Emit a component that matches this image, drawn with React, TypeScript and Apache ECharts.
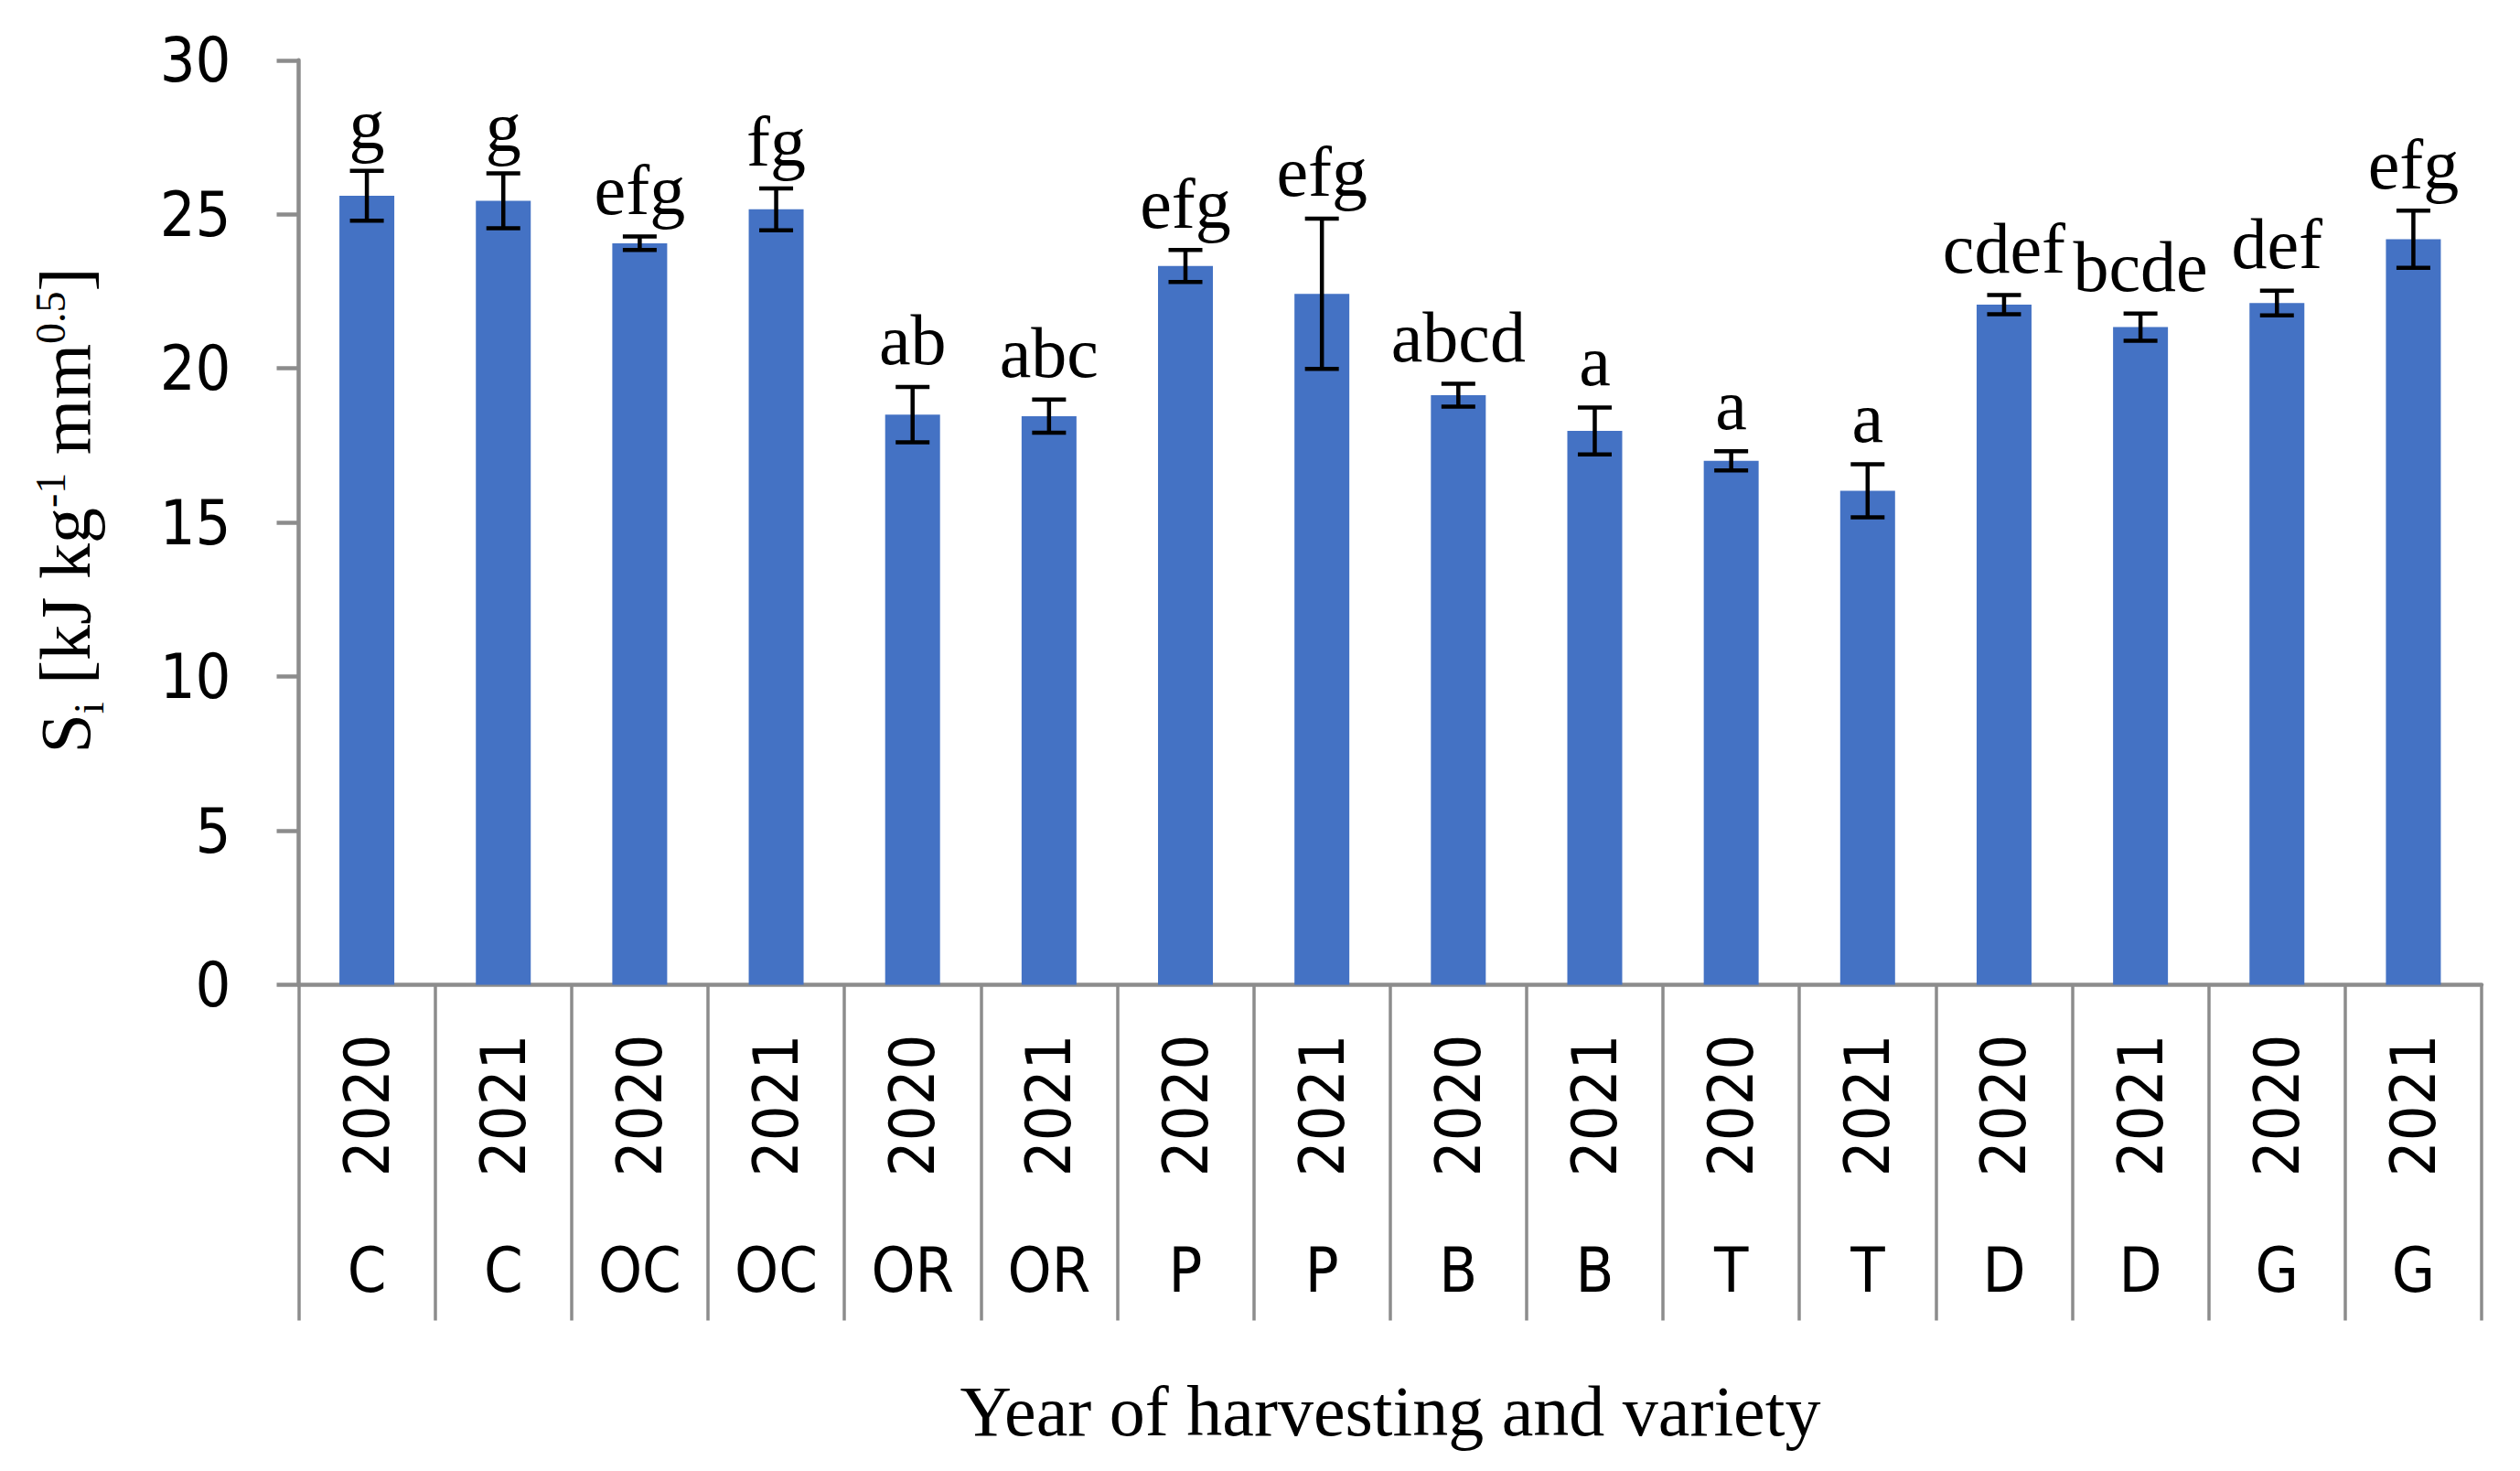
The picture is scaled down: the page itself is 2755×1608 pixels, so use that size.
import React, { useEffect, useRef } from 'react';
import * as echarts from 'echarts';

const years = ['2020', '2021', '2020', '2021', '2020', '2021', '2020', '2021', '2020', '2021', '2020', '2021', '2020', '2021', '2020', '2021'];
const varieties = ['C', 'C', 'OC', 'OC', 'OR', 'OR', 'P', 'P', 'B', 'B', 'T', 'T', 'D', 'D', 'G', 'G'];
const means = [25.6, 25.44, 24.06, 25.16, 18.5, 18.45, 23.32, 22.42, 19.13, 17.97, 17.0, 16.03, 22.07, 21.34, 22.12, 24.19];
const errors = [0.81, 0.89, 0.22, 0.68, 0.9, 0.54, 0.52, 2.44, 0.37, 0.76, 0.31, 0.86, 0.31, 0.44, 0.4, 0.93];
const letters = ['g', 'g', 'efg', 'fg', 'ab', 'abc', 'efg', 'efg', 'abcd', 'a', 'a', 'a', 'cdef', 'bcde', 'def', 'efg'];

// y-axis title pieces: [text, kind]
const yTitleParts: [string, 'n' | 'sub' | 'sup'][] = [
  ['S', 'n'],
  ['i', 'sub'],
  [' [kJ kg', 'n'],
  ['-1', 'sup'],
  [' mm', 'n'],
  ['0.5', 'sup'],
  [']', 'n'],
];

const SANS = "'DejaVu Sans Condensed', 'DejaVu Sans', sans-serif";
const SERIF = "'Liberation Serif', 'Times New Roman', serif";
const GRAY = '#8c8c8c';
const MAIN_FS = 78;
const SMALL_FS = 46;

function buildYTitle() {
  const ctx = document.createElement('canvas').getContext('2d') as CanvasRenderingContext2D;
  const widths = yTitleParts.map(([t, k]) => {
    ctx.font = `${k === 'n' ? MAIN_FS : SMALL_FS}px ${SERIF}`;
    return ctx.measureText(t).width;
  });
  const total = widths.reduce((a, b) => a + b, 0);
  let x = -total / 2;
  const children: any[] = [];
  yTitleParts.forEach(([t, k], idx) => {
    const dy = k === 'n' ? 0 : k === 'sub' ? 26 : -16;
    children.push({
      type: 'text',
      x,
      y: dy,
      style: {
        text: t,
        fontFamily: SERIF,
        fontSize: k === 'n' ? MAIN_FS : SMALL_FS,
        fill: '#000',
        align: 'left',
        verticalAlign: 'middle',
      },
    });
    x += widths[idx];
  });
  return { type: 'group', x: 71, y: 558, rotation: Math.PI / 2, children };
}

export default function App() {
  const ref = useRef<HTMLDivElement>(null);
  useEffect(() => {
    if (!ref.current) return;
    const chart = echarts.init(ref.current, null, { renderer: 'svg' });
    const errData = means.map((m, i) => [i, m, errors[i]]);
    chart.setOption({
      animation: false,
      backgroundColor: '#ffffff',
      grid: { left: 326.5, right: 42, top: 65.8, bottom: 531.5, containLabel: false },
      xAxis: [
        {
          type: 'category',
          data: years,
          position: 'bottom',
          axisLine: { show: true, lineStyle: { color: GRAY, width: 4.5 } },
          axisTick: { show: true, interval: 0, length: 367, lineStyle: { color: GRAY, width: 3.5 } },
          axisLabel: { interval: 0, rotate: 90, margin: 54, fontSize: 68, fontFamily: SANS, color: '#000' },
          splitLine: { show: false },
        },
        {
          type: 'category',
          data: varieties,
          position: 'bottom',
          axisLine: { show: false },
          axisTick: { show: false },
          axisLabel: { interval: 0, margin: 278, fontSize: 68, fontFamily: SANS, color: '#000' },
          splitLine: { show: false },
        },
      ],
      yAxis: {
        type: 'value',
        min: 0,
        max: 30,
        interval: 5,
        axisLine: { show: true, lineStyle: { color: GRAY, width: 4.5 } },
        axisTick: { show: true, length: 24, lineStyle: { color: GRAY, width: 4.5 } },
        axisLabel: { margin: 74, fontSize: 68, fontFamily: SANS, color: '#000' },
        splitLine: { show: false },
      },
      series: [
        {
          type: 'bar',
          xAxisIndex: 0,
          yAxisIndex: 0,
          data: means,
          barWidth: 60,
          z: 2,
          itemStyle: { color: '#4472C4' },
        },
        {
          type: 'custom',
          xAxisIndex: 0,
          yAxisIndex: 0,
          z: 10,
          data: errData,
          encode: { x: 0, y: 1 },
          renderItem: (params: any, api: any) => {
            const i = api.value(0);
            const m = api.value(1);
            const e = api.value(2);
            const top = api.coord([i, m + e]);
            const bot = api.coord([i, m - e]);
            const half = 18.5;
            const ls = { stroke: '#000', lineWidth: 4.5 };
            return {
              type: 'group',
              children: [
                { type: 'line', shape: { x1: top[0], y1: top[1], x2: bot[0], y2: bot[1] }, style: ls },
                { type: 'line', shape: { x1: top[0] - half, y1: top[1], x2: top[0] + half, y2: top[1] }, style: ls },
                { type: 'line', shape: { x1: bot[0] - half, y1: bot[1], x2: bot[0] + half, y2: bot[1] }, style: ls },
                {
                  type: 'text',
                  x: top[0],
                  y: top[1] - 12,
                  style: {
                    text: letters[params.dataIndex],
                    fontFamily: SERIF,
                    fontSize: 78,
                    fill: '#000',
                    align: 'center',
                    verticalAlign: 'bottom',
                  },
                },
              ],
            };
          },
        },
      ],
      graphic: [
        {
          type: 'text',
          x: 1520,
          y: 1542,
          style: {
            text: 'Year of harvesting and variety',
            fontFamily: SERIF,
            fontSize: 78,
            fill: '#000',
            align: 'center',
            verticalAlign: 'middle',
          },
        },
        buildYTitle(),
      ],
    });
    return () => chart.dispose();
  }, []);
  return (
    <div
      ref={ref}
      style={{ position: 'fixed', left: 0, top: 0, width: 2755, height: 1608, background: '#fff' }}
    />
  );
}
